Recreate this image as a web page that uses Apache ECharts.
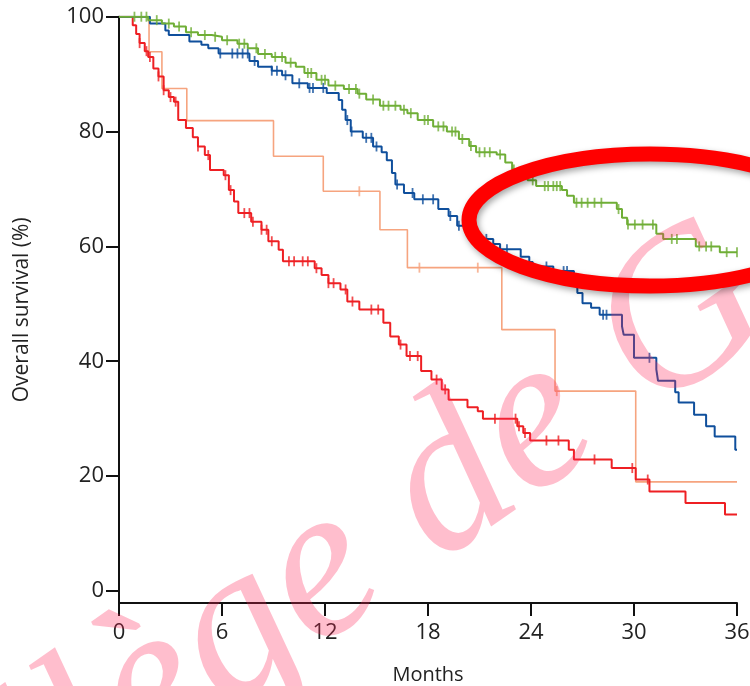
<!DOCTYPE html>
<html><head><meta charset="utf-8">
<script src="https://cdn.jsdelivr.net/npm/echarts@6/dist/echarts.min.js"></script>
<style>html,body{margin:0;padding:0;background:#fff}#c{width:750px;height:686px}</style>
</head><body><div id="c"></div>
<script>
// ---- Axis ticks ----
const xTicks = [0, 6, 12, 18, 24, 30, 36];
const yTicks = [0, 20, 40, 60, 80, 100];

// ---- Green curve (event times in months, survival % after each drop) ----
const greenTimes = [1.7, 2.5, 3.2, 3.9, 4.6, 5.4, 6.0, 6.9, 7.5, 8.1, 8.9, 9.7, 10.3, 10.8, 11.5, 12.2, 13.1, 13.9, 14.4, 15.2, 16.4, 16.8, 17.4, 18.3, 19.1, 19.8, 20.4, 20.8, 22.0, 22.5, 22.9, 23.4, 23.8, 24.3, 25.8, 26.1, 26.5, 29.0, 29.3, 29.6, 31.3, 31.7, 33.6, 35.0];
const greenSurv  = [99.4, 98.8, 98.3, 97.3, 96.8, 96.5, 95.9, 95.3, 94.5, 93.5, 93.0, 92.0, 91.3, 90.2, 89.0, 88.0, 87.4, 86.6, 85.6, 84.5, 83.8, 83.2, 82.0, 80.9, 80.0, 78.7, 77.5, 76.4, 76.0, 74.6, 73.4, 72.5, 71.5, 70.5, 69.8, 68.8, 67.6, 66.5, 65.0, 63.8, 62.2, 61.3, 60.0, 59.0];
const greenCensor = [0.9, 1.3, 1.6, 2.2, 2.9, 3.5, 4.2, 5.0, 5.6, 6.3, 7.0, 7.3, 8.0, 8.5, 9.1, 9.5, 10.0, 11.0, 11.2, 11.8, 12.0, 12.6, 13.4, 13.8, 14.0, 14.8, 15.4, 15.7, 16.1, 16.6, 17.0, 17.8, 18.0, 18.6, 18.9, 19.4, 19.6, 20.0, 20.5, 21.0, 21.3, 21.6, 22.2, 23.0, 23.6, 24.1, 24.8, 25.0, 25.3, 25.5, 25.7, 26.65, 26.95, 27.3, 27.7, 28.1, 29.1, 29.65, 30.05, 30.5, 31.1, 32.2, 32.5, 33.8, 34.2, 34.5, 35.4, 36.0];

// ---- Blue curve ----
const blueTimes = [1.8, 2.7, 2.9, 4.1, 4.8, 5.2, 5.8, 7.6, 8.1, 8.9, 9.5, 10.1, 11.0, 12.1, 12.8, 13.0, 13.2, 13.5, 14.2, 14.8, 15.3, 15.6, 15.9, 16.1, 16.6, 17.2, 18.6, 19.2, 19.7, 20.6, 21.0, 21.8, 22.2, 23.4, 23.9, 24.1, 25.3, 26.5, 26.7, 27.0, 27.5, 28.0, 29.3, 29.4, 30.0, 31.3, 31.4, 32.4, 32.6, 33.5, 34.2, 34.7, 35.9];
const blueSurv  = [98.8, 97.6, 96.8, 95.7, 95.1, 94.5, 93.6, 92.3, 91.3, 90.6, 89.8, 88.4, 87.6, 86.7, 85.5, 83.8, 82.0, 80.0, 78.9, 77.4, 76.4, 75.0, 72.8, 70.8, 69.3, 68.2, 66.5, 65.3, 63.6, 62.1, 61.3, 60.4, 59.5, 58.2, 57.3, 56.5, 55.7, 54.3, 51.9, 50.1, 49.3, 48.1, 46.1, 44.6, 40.6, 38.6, 36.6, 34.6, 32.8, 30.7, 28.7, 26.9, 24.6];
const blueCensor = [5.9, 6.6, 6.9, 7.2, 7.5, 7.9, 8.9, 9.2, 9.7, 10.5, 11.1, 11.3, 11.9, 13.3, 13.55, 14.4, 14.7, 15.0, 16.2, 17.1, 17.7, 18.3, 19.3, 19.8, 20.8, 21.1, 21.4, 22.2, 22.6, 24.9, 25.9, 26.1, 28.2, 28.4, 30.9];

// ---- Orange curve ----
const orangeTimes = [1.75, 2.5, 3.95, 9.0, 11.9, 15.2, 16.8, 22.3, 25.4, 30.1];
const orangeSurv  = [93.9, 87.5, 81.9, 75.7, 69.6, 62.9, 56.3, 45.5, 34.8, 19.0];
const orangeCensor = [14.0, 17.5, 20.9, 25.5];

// ---- Red curve ----
const redTimes = [0.8, 1.0, 1.2, 1.5, 1.7, 2.0, 2.3, 2.6, 2.9, 3.2, 3.45, 3.9, 4.3, 4.6, 5.0, 5.3, 6.1, 6.4, 6.7, 6.95, 7.7, 8.3, 8.7, 9.3, 9.55, 11.4, 11.8, 12.2, 12.9, 13.3, 14.0, 15.4, 15.8, 16.3, 16.75, 17.6, 18.2, 18.8, 19.2, 20.3, 20.9, 21.2, 23.2, 23.55, 23.95, 26.2, 26.5, 28.7, 30.1, 30.9, 33.0, 35.3];
const redSurv  = [98.5, 97.0, 95.4, 94.0, 93.0, 91.0, 89.6, 87.2, 86.0, 85.2, 82.0, 80.6, 79.0, 77.4, 75.9, 73.3, 72.4, 69.8, 67.8, 65.8, 64.3, 62.9, 60.9, 59.4, 57.4, 56.2, 55.0, 53.6, 52.5, 50.4, 49.0, 46.7, 44.3, 42.9, 40.9, 38.3, 36.8, 35.1, 33.3, 32.0, 31.3, 30.0, 28.7, 27.5, 26.2, 24.6, 22.9, 21.4, 19.4, 17.3, 15.3, 13.3];
const redCensor = [1.2, 1.6, 1.8, 2.3, 2.6, 3.0, 3.3, 4.6, 5.2, 6.2, 6.5, 7.3, 7.6, 7.8, 8.3, 8.6, 8.9, 9.9, 10.2, 10.7, 11.0, 11.5, 12.2, 12.5, 13.2, 13.6, 14.7, 15.1, 16.4, 16.95, 17.4, 18.5, 19.0, 21.9, 23.1, 23.3, 23.65, 24.9, 25.6, 27.7, 29.9, 30.8];

const colors = { green: '#6fae36', blue: '#0f4f9c', orange: '#f6a47f', red: '#ee1f23' };

function curve(times, surv, end) {
  const d = [[0, 100]];
  times.forEach((t, i) => d.push([t, surv[i]]));
  d.push([end, surv[surv.length - 1]]);
  return d;
}
function valueAt(times, surv, t) {
  let v = 100;
  for (let i = 0; i < times.length; i++) { if (times[i] <= t) v = surv[i]; }
  return v;
}
function marks(times, surv, cens) { return cens.map(t => [t, valueAt(times, surv, t)]); }

const groups = [
  ['orange', orangeTimes, orangeSurv, orangeCensor],
  ['red', redTimes, redSurv, redCensor],
  ['blue', blueTimes, blueSurv, blueCensor],
  ['green', greenTimes, greenSurv, greenCensor]
];
const series = [];
groups.forEach(([name, t, s, c], gi) => {
  series.push({ type: 'line', name, step: 'end', showSymbol: false, data: curve(t, s, 36),
    lineStyle: { color: colors[name], width: name === 'orange' ? 1.6 : 2 }, z: 2 + gi, silent: true });
  series.push({ type: 'scatter', name: name + ' censored', symbol: 'rect', symbolSize: [1.8, 10],
    itemStyle: { color: colors[name] }, data: marks(t, s, c), z: 2 + gi, silent: true });
});

const axisFont = 'Open Sans';
const chart = echarts.init(document.getElementById('c'), null, { renderer: 'canvas' });
chart.setOption({
  animation: false,
  backgroundColor: '#fff',
  grid: { left: 119, right: 13, top: 16.7, bottom: 83, containLabel: false, outerBoundsMode: 'none' },
  xAxis: {
    type: 'value', min: 0, max: 36, interval: 6,
    name: 'Months', nameLocation: 'middle', nameGap: 62,
    nameTextStyle: { fontFamily: axisFont, fontSize: 20, color: '#222' },
    axisLine: { onZero: false, lineStyle: { color: '#111', width: 2 } },
    axisTick: { length: 13, lineStyle: { color: '#111', width: 2 } },
    axisLabel: { fontFamily: axisFont, fontSize: 22, color: '#222', margin: 19 },
    splitLine: { show: false }
  },
  yAxis: {
    type: 'value', min: -2.1, max: 100,
    name: 'Overall survival (%)', nameLocation: 'middle', nameGap: 86,
    nameTextStyle: { fontFamily: axisFont, fontSize: 21, color: '#222' },
    axisLine: { lineStyle: { color: '#111', width: 2 } },
    axisTick: { length: 13, customValues: yTicks, lineStyle: { color: '#111', width: 2 } },
    axisLabel: { fontFamily: axisFont, fontSize: 22, color: '#222', margin: 15, customValues: yTicks },
    splitLine: { show: false }
  },
  series,
  graphic: [
    { type: 'text', x: -195, y: 937, rotation: 35 * Math.PI / 180, z: 50, silent: true,
      style: { text: 'Collège de G', font: 'italic 218px "Liberation Serif", "DejaVu Serif", serif',
        fill: 'rgba(255, 40, 90, 0.3)', textAlign: 'left', verticalAlign: 'middle' } },
    { type: 'ellipse', z: 60, silent: true,
      shape: { cx: 650, cy: 220, rx: 181, ry: 66 },
      style: { fill: 'none', stroke: '#ff0000', lineWidth: 15,
        shadowBlur: 6, shadowColor: 'rgba(0,0,0,0.35)', shadowOffsetX: 2, shadowOffsetY: 3 } }
  ]
});
</script></body></html>
